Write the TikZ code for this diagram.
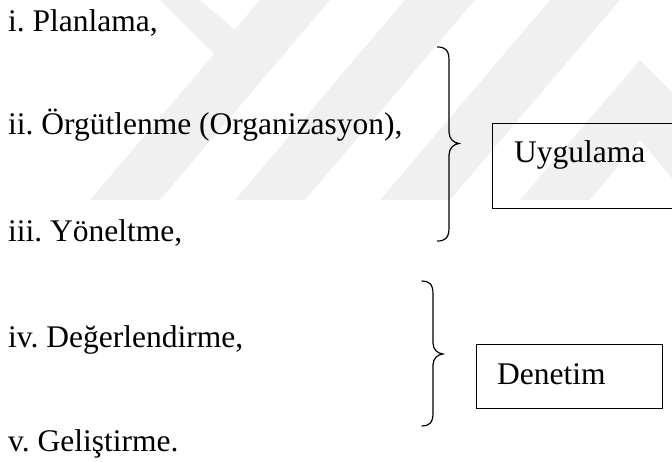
\documentclass[tikz,border=0pt]{standalone}
\usepackage{fontspec}
\setmainfont{Liberation Serif}
\newfontfamily\tnr{Liberation Serif}
\frenchspacing
\begin{document}
\begin{tikzpicture}[x=1pt,y=-1pt,
  lbl/.style={inner sep=0pt,anchor=base west,font=\tnr\fontsize{31.5}{38}\selectfont},
  boxnode/.style={draw,line width=1pt,anchor=north west,inner sep=0pt},
  bracepath/.style={draw,line width=1.2pt,line cap=round},
  wm/.style={fill=black!6,draw=none}]
\clip (0,0) rectangle (672,462);
\useasboundingbox (0,0) rectangle (672,462);
% faint watermark
\fill[wm] (90,200) -- (160,200) -- (330,0) -- (260,0) -- cycle;
\fill[wm] (235,200) -- (305,200) -- (475,0) -- (405,0) -- cycle;
\fill[wm] (380,200) -- (450,200) -- (620,0) -- (550,0) -- cycle;
\fill[wm] (160,0) -- (200,0) -- (235,30) -- (215,55) -- cycle;
\fill[wm] (520,200) -- (590,200) -- (640,140) -- (690,200) -- (700,200) -- (700,120) -- (640,60) -- cycle;
% list items
\node[lbl] (i1) at (8,32) {i. Planlama,};
\node[lbl] (i2) at (8,135) {ii. Örgütlenme (Organizasyon),};
\node[lbl] (i3) at (8,242) {iii. Yöneltme,};
\node[lbl] (i4) at (8,347) {iv. Değerlendirme,};
\node[lbl] (i5) at (8,451) {v. Geliştirme.};
% braces
\draw[bracepath] (437.5,47) .. controls (445,47) and (449,50) .. (449,60)
  -- (449,132) .. controls (449,139) and (454,143) .. (459,143.5)
  .. controls (454,144) and (449,148) .. (449,155)
  -- (449,228) .. controls (449,238) and (445,241) .. (437.5,241);
\draw[bracepath] (422,281) .. controls (429,281) and (433,284) .. (433,294)
  -- (433,343) .. controls (433,350) and (438,353.5) .. (443,354)
  .. controls (438,354.5) and (433,358) .. (433,365)
  -- (433,413) .. controls (433,423) and (429,426) .. (422,426);
% boxes
\node[boxnode,minimum width=210pt,minimum height=85pt] (uyg) at (492,123) {};
\node[lbl] (uygt) at ([xshift=22pt,yshift=-40pt]uyg.north west) {Uygulama};
\node[boxnode,minimum width=186pt,minimum height=64pt] (den) at (476,344) {};
\node[lbl] (dent) at ([xshift=21pt,yshift=-40pt]den.north west) {Denetim};
\end{tikzpicture}
\end{document}
